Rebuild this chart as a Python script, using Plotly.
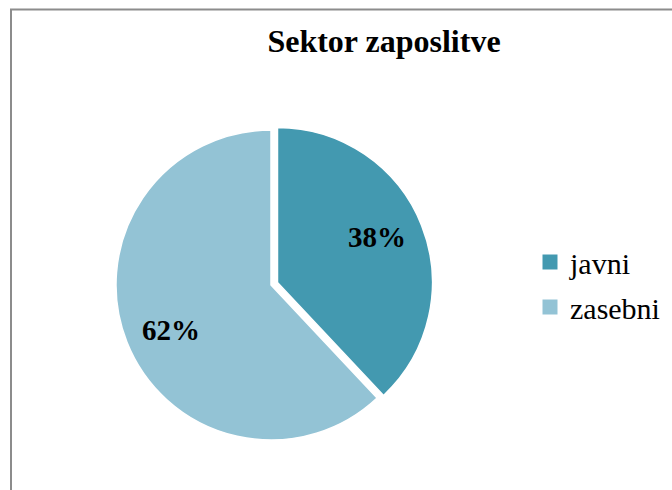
import math
import plotly.graph_objects as go

categories = ["javni", "zasebni"]
shares = [38, 62]
colors = ["#4399B0", "#93C3D5"]
title_text = "Sektor zaposlitve"

W, H = 672, 490
# pie geometry (pixels)
CX, CY, R = 271, 285, 155
PULL = [0.045, 0.0]
LABEL_FRAC = 0.705
LABEL_ROT = -2.7  # degrees

half = R * (1 + max(PULL))
fig = go.Figure()

fig.add_trace(go.Pie(
    labels=categories,
    values=shares,
    sort=False,
    direction="clockwise",
    rotation=0,
    pull=PULL,
    marker=dict(colors=colors, line=dict(color="white", width=1.5)),
    textinfo="none",
    domain=dict(x=[(CX - half) / W, (CX + half) / W],
                y=[1 - (CY + half) / H, 1 - (CY - half) / H]),
    showlegend=False,
    hoverinfo="label+percent",
))

# percentage labels placed along each slice's mid-angle
total = sum(shares)
annotations = []
start = 0.0
for v, p in zip(shares, PULL):
    frac = v / total
    mid = (start + frac / 2) * 2 * math.pi
    start += frac
    vx = CX + p * R * math.sin(mid)
    vy = CY - p * R * math.cos(mid)
    la = mid + math.radians(LABEL_ROT)
    lx = vx + LABEL_FRAC * R * math.sin(la)
    ly = vy - LABEL_FRAC * R * math.cos(la)
    annotations.append(dict(
        x=lx / W, y=1 - ly / H, xref="paper", yref="paper",
        text=f"{round(frac * 100)}%", showarrow=False,
        xanchor="center", yanchor="middle",
        font=dict(family="Liberation Serif", size=29, color="black", weight="bold"),
    ))

# legend entries (one group each, for spacing)
for name, col in zip(categories, colors):
    fig.add_trace(go.Scatter(
        x=[None], y=[None], mode="markers", name=name,
        marker=dict(symbol="square", size=15, color=col),
        legendgroup=name, showlegend=True, hoverinfo="skip",
    ))

fig.update_layout(
    width=W, height=H,
    margin=dict(l=0, r=0, t=0, b=0),
    paper_bgcolor="white", plot_bgcolor="white",
    title=dict(text=title_text, x=384 / W, xanchor="center",
               y=1 - 41 / H, yanchor="middle", yref="container",
               font=dict(family="Liberation Serif", size=32, color="black", weight="bold")),
    xaxis=dict(visible=False), yaxis=dict(visible=False),
    legend=dict(x=530 / W, xanchor="left", y=1 - 236 / H, yanchor="top",
                font=dict(family="Liberation Serif", size=30, color="black"),
                tracegroupgap=3, bgcolor="rgba(0,0,0,0)"),
    annotations=annotations,
    shapes=[
        dict(type="line", xref="paper", yref="paper", x0=11 / W, x1=11 / W,
             y0=-0.1, y1=1 - 9.5 / H, line=dict(color="#8c8c8c", width=2)),
        dict(type="line", xref="paper", yref="paper", x0=10 / W, x1=1.1,
             y0=1 - 9.5 / H, y1=1 - 9.5 / H, line=dict(color="#8c8c8c", width=2)),
    ],
)

fig.write_html("out.html", config={"displayModeBar": False},
               post_script="document.body.style.margin='0';")
